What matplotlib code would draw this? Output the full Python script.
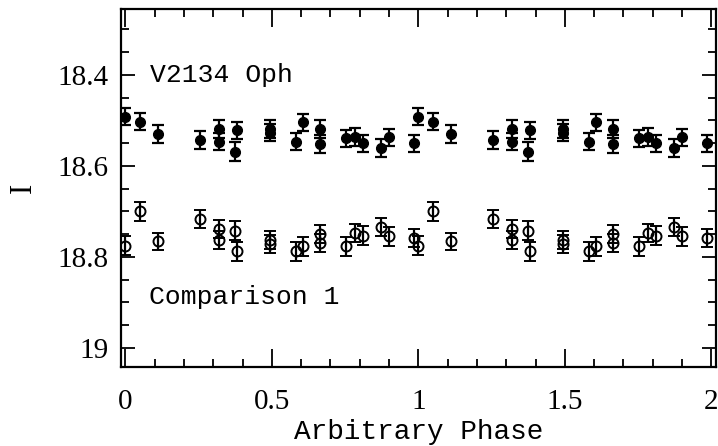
import numpy as np
import matplotlib
matplotlib.use('Agg')
import matplotlib.pyplot as plt
from matplotlib.ticker import MultipleLocator

# phases of the epochs (shown twice: phase and phase+1)
phase = [0.000, 0.050, 0.111, 0.255, 0.320, 0.320, 0.380, 0.374, 0.494, 0.494,
         0.582, 0.607, 0.666, 0.666, 0.753, 0.784, 0.812, 0.872, 0.901, 0.985]

# V2134 Oph (filled)
var_mag = [18.492, 18.503, 18.530, 18.543, 18.519, 18.547, 18.522, 18.569, 18.519, 18.527,
           18.547, 18.504, 18.519, 18.552, 18.539, 18.537, 18.550, 18.561, 18.537, 18.550]
var_err = [0.019, 0.019, 0.020, 0.019, 0.019, 0.019, 0.019, 0.021, 0.019, 0.019,
           0.019, 0.019, 0.020, 0.020, 0.019, 0.020, 0.019, 0.020, 0.019, 0.019]

# Comparison 1 (open)
comp_mag = [18.775, 18.700, 18.766, 18.717, 18.738, 18.763, 18.788, 18.742, 18.763, 18.772,
            18.788, 18.777, 18.749, 18.770, 18.777, 18.748, 18.753, 18.735, 18.755, 18.759]
comp_err = [0.020, 0.020, 0.019, 0.020, 0.020, 0.020, 0.020, 0.020, 0.020, 0.020,
            0.020, 0.020, 0.020, 0.020, 0.020, 0.020, 0.020, 0.020, 0.020, 0.020]

x = np.concatenate([phase, np.array(phase) + 1.0])

fig = plt.figure(figsize=(7.18, 4.46), dpi=100)
ax = fig.add_axes([0.1685, 0.178, 0.8287, 0.802])

ax.errorbar(x, var_mag * 2, yerr=var_err * 2, fmt='o', color='black',
            markersize=7, elinewidth=1.6, capsize=4, capthick=1.6)
ax.errorbar(x, comp_mag * 2, yerr=comp_err * 2, fmt='o', color='black',
            markerfacecolor='none', markeredgewidth=1.4, markersize=7.2,
            elinewidth=1.6, capsize=4, capthick=1.6)

ax.set_xlim(-0.015, 2.016)
ax.set_ylim(19.041, 18.255)

ax.xaxis.set_major_locator(MultipleLocator(0.5))
ax.xaxis.set_minor_locator(MultipleLocator(0.1))
ax.yaxis.set_major_locator(MultipleLocator(0.2))
ax.yaxis.set_minor_locator(MultipleLocator(0.05))
ax.xaxis.set_major_formatter(plt.FuncFormatter(lambda v, p: '%g' % v))
ax.yaxis.set_major_formatter(plt.FuncFormatter(lambda v, p: '%g' % round(v, 2)))

ax.tick_params(which='both', direction='in', top=True, right=True, width=1.3)
ax.tick_params(axis='x', which='major', length=13, pad=16)
ax.tick_params(axis='y', which='major', length=10, pad=9)
ax.tick_params(which='minor', length=6)
ax.tick_params(labelsize=21)
for lab in ax.get_xticklabels() + ax.get_yticklabels():
    lab.set_family('Liberation Serif')
for s in ax.spines.values():
    s.set_linewidth(1.6)

ax.set_xlabel('Arbitrary Phase', family='Liberation Mono', fontsize=20, labelpad=3)
ax.set_ylabel('I', family='Liberation Serif', fontsize=22, labelpad=14)

ax.text(0.085, 18.4, 'V2134 Oph', family='Liberation Mono', fontsize=19, va='center')
ax.text(0.08, 18.888, 'Comparison 1', family='Liberation Mono', fontsize=19, va='center')

fig.savefig('out.png', dpi=100)
